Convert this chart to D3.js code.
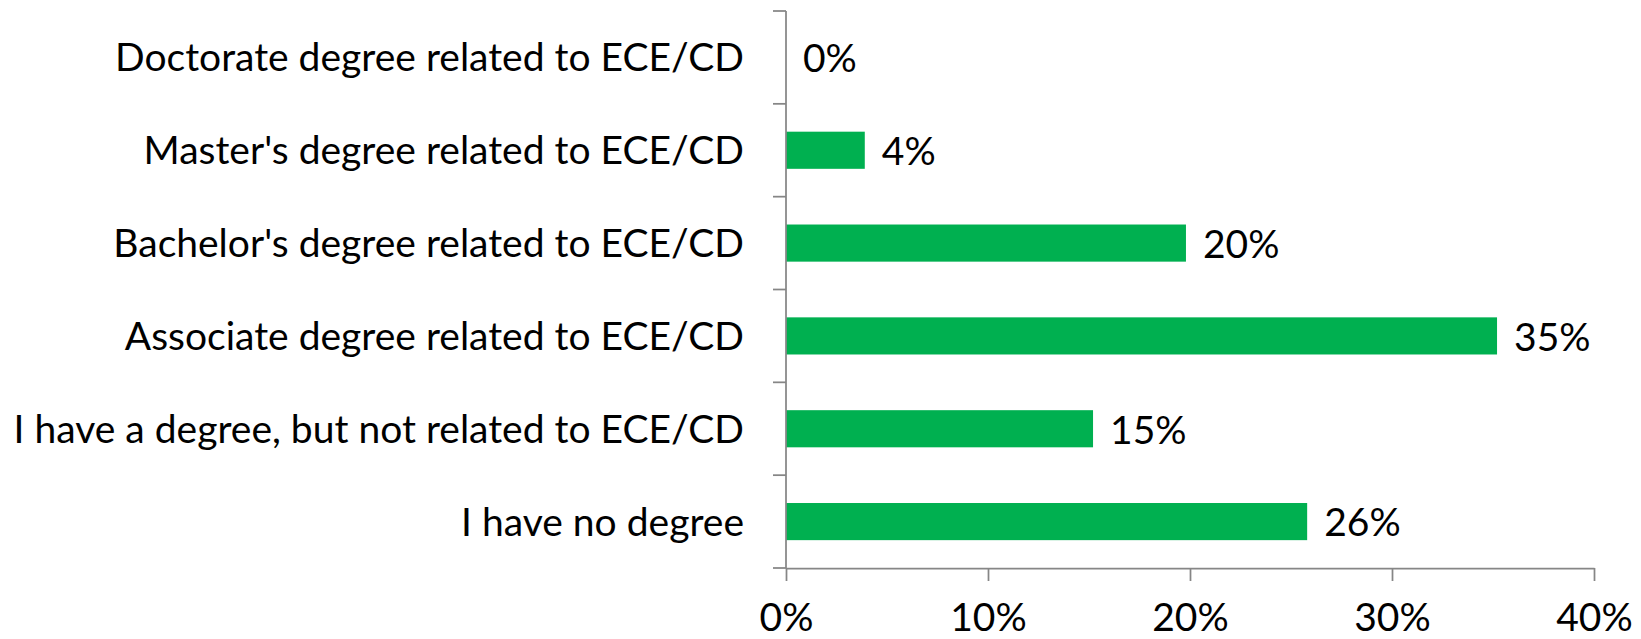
<!DOCTYPE html>
<html>
<head>
<meta charset="utf-8">
<script src="https://cdnjs.cloudflare.com/ajax/libs/d3/7.8.5/d3.min.js"></script>
<style>
  body { margin: 0; background: #fff; }
  text { font-family: Lato, "Open Sans", sans-serif; fill: #000; }
</style>
</head>
<body>
<div id="chart"></div>
<script>
// categories, top to bottom
var categories = [
  "Doctorate degree related to ECE/CD",
  "Master's degree related to ECE/CD",
  "Bachelor's degree related to ECE/CD",
  "Associate degree related to ECE/CD",
  "I have a degree, but not related to ECE/CD",
  "I have no degree"
];
var values = [0, 3.9, 19.8, 35.2, 15.2, 25.8];
var xTicks = [0, 10, 20, 30, 40];

var width = 1641;
var height = 639;
var margin = { top: 11, right: 47, bottom: 71, left: 786 };
var fontSize = 39;

var svg = d3.select("#chart")
  .append("svg")
  .attr("width", width)
  .attr("height", height);

var x = d3.scaleLinear()
  .domain([0, 40])
  .range([margin.left, width - margin.right]);

var y = d3.scaleBand()
  .domain(categories)
  .range([margin.top, height - margin.bottom])
  .padding(0);

var barH = y.bandwidth() * 0.4;
var axisColor = "#868686";

// bars
svg.append("g")
  .selectAll("rect")
  .data(values)
  .join("rect")
  .attr("x", x(0))
  .attr("y", (d, i) => y(categories[i]) + (y.bandwidth() - barH) / 2)
  .attr("width", d => x(d) - x(0))
  .attr("height", barH)
  .attr("fill", "#00b050");

// x axis
var xAxis = svg.append("g")
  .attr("transform", "translate(0," + (height - margin.bottom) + ")")
  .call(d3.axisBottom(x)
    .tickValues(xTicks)
    .tickFormat(d => d + "%")
    .tickSize(13)
    .tickSizeOuter(0)
    .tickPadding(0));
xAxis.select(".domain").attr("stroke", axisColor).attr("stroke-width", 1.75);
xAxis.selectAll(".tick line").attr("stroke", axisColor).attr("stroke-width", 1.75);
xAxis.selectAll(".tick text")
  .attr("y", 63)
  .attr("dy", null)
  .style("font-size", fontSize + "px");

// y axis (ticks on category boundaries)
var yEdges = categories.map(c => y(c)).concat([y(categories[categories.length - 1]) + y.bandwidth()]);
svg.append("line")
  .attr("x1", x(0)).attr("x2", x(0))
  .attr("y1", yEdges[0]).attr("y2", yEdges[yEdges.length - 1])
  .attr("stroke", axisColor).attr("stroke-width", 1.75);
svg.append("g")
  .selectAll("line")
  .data(yEdges)
  .join("line")
  .attr("x1", x(0) - 13).attr("x2", x(0))
  .attr("y1", d => d).attr("y2", d => d)
  .attr("stroke", axisColor).attr("stroke-width", 1.75);

// category labels
svg.append("g")
  .selectAll("text")
  .data(categories)
  .join("text")
  .attr("x", x(0) - 42)
  .attr("y", d => y(d) + y.bandwidth() / 2)
  .attr("dy", "0.36em")
  .attr("text-anchor", "end")
  .style("font-size", fontSize + "px")
  .text(d => d);

// value labels
svg.append("g")
  .selectAll("text")
  .data(values)
  .join("text")
  .attr("x", d => x(d) + 17)
  .attr("y", (d, i) => y(categories[i]) + y.bandwidth() / 2)
  .attr("dy", "0.38em")
  .style("font-size", fontSize + "px")
  .text(d => Math.round(d) + "%");
</script>
</body>
</html>
